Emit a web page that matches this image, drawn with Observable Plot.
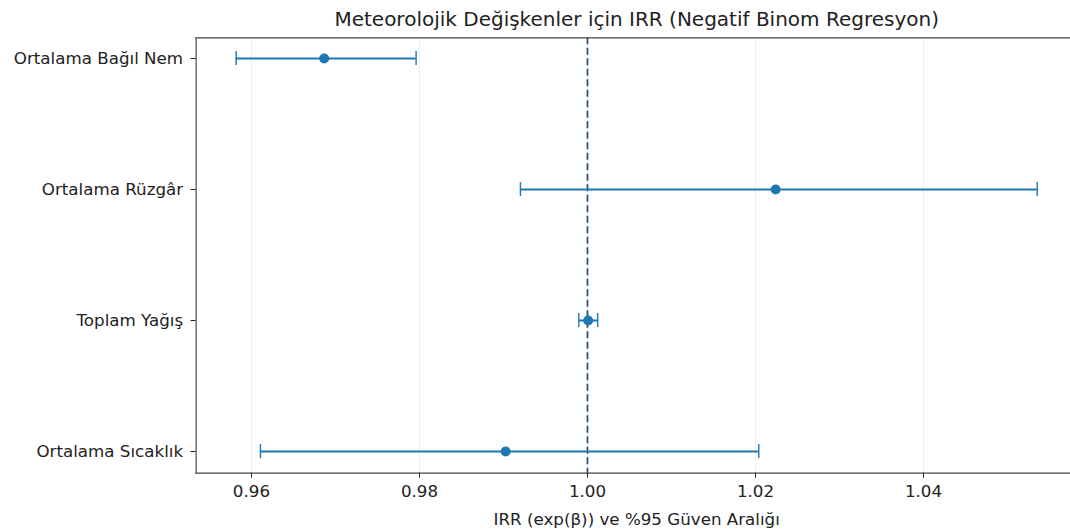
<!DOCTYPE html>
<html>
<head>
<meta charset="utf-8">
<script src="https://cdn.jsdelivr.net/npm/d3@7"></script>
<script src="https://cdn.jsdelivr.net/npm/@observablehq/plot@0.6"></script>
<style>
  html, body { margin: 0; padding: 0; background: #fff; overflow: hidden; }
</style>
</head>
<body>
<div id="chart"></div>
<script>
// Incidence rate ratios (exp(β)) with 95% confidence limits per weather variable
const variables = ["Ortalama Bağıl Nem", "Ortalama Rüzgâr", "Toplam Yağış", "Ortalama Sıcaklık"];
const irr   = [0.96866, 1.02240, 1.00008, 0.99026];
const lower = [0.95818, 0.99202, 0.99897, 0.96107];
const upper = [0.97960, 1.05354, 1.00122, 1.02039];
const xTicks = [0.96, 0.98, 1.00, 1.02, 1.04];
const referenceLine = [1];

const titleText = "Meteorolojik Değişkenler için IRR (Negatif Binom Regresyon)";
const xLabel = "IRR (exp(β)) ve %95 Güven Aralığı";

const rows = variables.map((name, i) => ({name, irr: irr[i], lower: lower[i], upper: upper[i]}));

// matplotlib-style 5% margin around the full interval extent
const lo = d3.min(lower), hi = d3.max(upper), pad = (hi - lo) * 0.05;

const blue = "#1f77b4";
const spine = {stroke: "#444", strokeWidth: 1.2};

const chart = Plot.plot({
  width: 1070,
  height: 529,
  marginLeft: 195.6,
  marginRight: -6.8,
  marginTop: 37.3,
  marginBottom: 56.3,
  style: {fontFamily: "'DejaVu Sans', sans-serif", fontSize: "16.7px", color: "#222", background: "#fff"},
  x: {domain: [lo - pad, hi + pad]},
  y: {type: "point", domain: variables, padding: 0.15},
  marks: [
    Plot.gridX(xTicks, {stroke: "#000", strokeOpacity: 0.07, strokeWidth: 1}),
    Plot.ruleX(referenceLine, {stroke: "#2c5478", strokeWidth: 1.8, strokeDasharray: "7,3.5"}),
    Plot.ruleY(rows, {y: "name", x1: "lower", x2: "upper", stroke: blue, strokeWidth: 2}),
    Plot.ruleX(rows, {x: "lower", y1: "name", y2: "name", insetTop: -7, insetBottom: -7, stroke: blue, strokeWidth: 1.4}),
    Plot.ruleX(rows, {x: "upper", y1: "name", y2: "name", insetTop: -7, insetBottom: -7, stroke: blue, strokeWidth: 1.4}),
    Plot.dot(rows, {x: "irr", y: "name", r: 5, fill: blue, stroke: null}),
    Plot.frame({anchor: "top", ...spine}),
    Plot.frame({anchor: "bottom", ...spine}),
    Plot.frame({anchor: "left", ...spine}),
    Plot.axisX({ticks: xTicks, tickFormat: d3.format(".2f"), tickSize: 5, tickPadding: 7, label: null, fontSize: 16.7}),
    Plot.axisY({tickSize: 5, tickPadding: 8, label: null, fontSize: 16.7}),
    Plot.text([titleText], {frameAnchor: "top", lineAnchor: "middle", dy: -18, fontSize: 20, fill: "#222"}),
    Plot.text([xLabel], {frameAnchor: "bottom", lineAnchor: "middle", dy: 46, fontSize: 16.7, fill: "#222"})
  ]
});

document.getElementById("chart").append(chart);
</script>
</body>
</html>
